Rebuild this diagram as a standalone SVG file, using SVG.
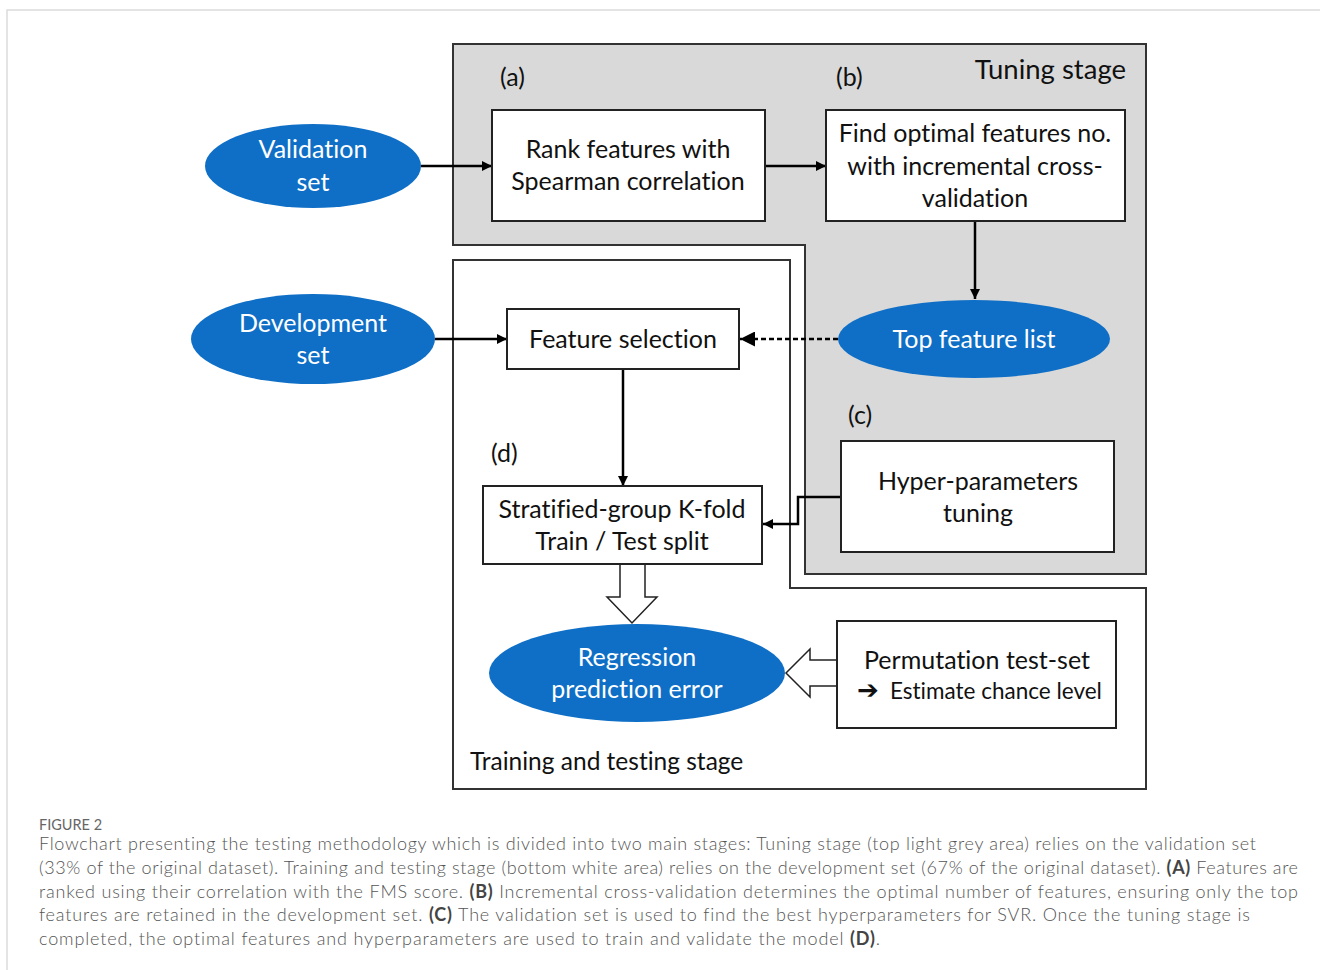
<svg xmlns="http://www.w3.org/2000/svg" width="1320" height="970" viewBox="0 0 1320 970">
<defs>
<style>
text{font-variant-ligatures:none}
.lbl{font-family:Lato,"Open Sans","Liberation Sans",sans-serif;font-size:25px;fill:#111;text-anchor:middle}
.wl{font-family:Lato,"Open Sans","Liberation Sans",sans-serif;font-size:25px;fill:#fff;text-anchor:middle}
.tag{font-family:Lato,"Open Sans","Liberation Sans",sans-serif;font-size:25px;fill:#111}
.box{fill:#fff;stroke:#222;stroke-width:2}
.ell{fill:#0f6fc6}
.con{fill:none;stroke:#000;stroke-width:2.5}
.cap{font-family:Lato,"Open Sans","Liberation Sans",sans-serif;font-weight:300;font-size:18px;fill:#555}
.capb{font-weight:700;fill:#444}
</style>
<marker id="ah" viewBox="0 0 10 10" refX="10" refY="5" markerWidth="4" markerHeight="4" orient="auto" markerUnits="strokeWidth">
<path d="M0,0 L10,5 L0,10 z" fill="#000"/>
</marker>
<marker id="ahs" viewBox="0 0 10 10" refX="10" refY="5" markerWidth="6" markerHeight="6" orient="auto" markerUnits="strokeWidth">
<path d="M0,0 L10,5 L0,10 z" fill="#000"/>
</marker>
</defs>
<rect width="1320" height="970" fill="#fff"/>
<path d="M7,970 L7,10 L1320,10" fill="none" stroke="#dcdcdc" stroke-width="1.5"/>

<g id="tuning-stage">
<polygon points="453,44 1146,44 1146,574 805,574 805,245 453,245" fill="#d9d9d9" stroke="#333" stroke-width="2"/>
<text x="1126" y="79" class="tag" style="font-size:27.5px;text-anchor:end">Tuning stage</text>
<text x="500" y="86" class="tag">(a)</text>
<text x="836" y="86" class="tag">(b)</text>
<text x="848" y="424" class="tag">(c)</text>
</g>
<g id="training-stage">
<polygon points="453,260 790,260 790,588 1146,588 1146,789 453,789" fill="#fff" stroke="#333" stroke-width="2"/>
<text x="470" y="770" class="tag" style="font-size:24.5px">Training and testing stage</text>
<text x="491" y="462" class="tag">(d)</text>
</g>

<g id="connectors">
<line x1="421" y1="166" x2="492" y2="166" class="con" marker-end="url(#ah)"/>
<line x1="765" y1="166" x2="826" y2="166" class="con" marker-end="url(#ah)"/>
<line x1="975" y1="221" x2="975" y2="299" class="con" stroke-width="2" marker-end="url(#ah)"/>
<line x1="838" y1="339" x2="740" y2="339" class="con" stroke-width="1.5" stroke-dasharray="5,3" marker-end="url(#ahs)"/>
<line x1="435" y1="339" x2="507" y2="339" class="con" marker-end="url(#ah)"/>
<line x1="623" y1="369" x2="623" y2="486" class="con" stroke-width="2" marker-end="url(#ah)"/>
<polyline points="841,497 798,497 798,524 763,524" class="con" stroke-width="3" marker-end="url(#ah)"/>
<polygon points="620,564 645,564 645,597 657,597 632,623 607,597 620,597" fill="#fff" stroke="#222" stroke-width="1.5"/>
<polygon points="837,660 810,660 810,649 786,673 810,697 810,686 837,686" fill="#fff" stroke="#222" stroke-width="1.5"/>
</g>

<g id="validation-set">
<ellipse cx="313" cy="166" rx="108" ry="42" class="ell"/>
<text x="313" y="158" class="wl">Validation</text>
<text x="313" y="191" class="wl">set</text>
</g>
<g id="development-set">
<ellipse cx="313" cy="339" rx="122" ry="45" class="ell"/>
<text x="313" y="332" class="wl">Development</text>
<text x="313" y="364" class="wl">set</text>
</g>
<g id="rank-features">
<rect x="492" y="110" width="273" height="111" class="box"/>
<text x="628" y="158" class="lbl">Rank features with</text>
<text x="628" y="190" class="lbl">Spearman correlation</text>
</g>
<g id="find-optimal">
<rect x="826" y="110" width="299" height="111" class="box"/>
<text x="975" y="142" class="lbl">Find optimal features no.</text>
<text x="975" y="175" class="lbl">with incremental cross-</text>
<text x="975" y="207" class="lbl">validation</text>
</g>
<g id="top-feature-list">
<ellipse cx="974" cy="339" rx="136" ry="39" class="ell"/>
<text x="974" y="348" class="wl">Top feature list</text>
</g>
<g id="feature-selection">
<rect x="507" y="309" width="232" height="60" class="box"/>
<text x="623" y="348" class="lbl">Feature selection</text>
</g>
<g id="hyper-parameters">
<rect x="841" y="441" width="273" height="111" class="box"/>
<text x="978" y="490" class="lbl">Hyper-parameters</text>
<text x="978" y="522" class="lbl">tuning</text>
</g>
<g id="kfold">
<rect x="483" y="486" width="279" height="78" class="box"/>
<text x="622" y="518" class="lbl">Stratified-group K-fold</text>
<text x="622" y="550" class="lbl">Train / Test split</text>
</g>
<g id="regression-error">
<ellipse cx="637" cy="673" rx="148" ry="49" class="ell"/>
<text x="637" y="666" class="wl">Regression</text>
<text x="637" y="698" class="wl">prediction error</text>
</g>
<g id="permutation">
<rect x="837" y="621" width="279" height="107" class="box"/>
<text x="977" y="669" class="lbl">Permutation test-set</text>
<text x="857" y="699" class="lbl" style="text-anchor:start;font-size:22.5px"><tspan style="font-family:'DejaVu Sans',sans-serif;font-size:26px;font-weight:bold">➔</tspan><tspan x="890">Estimate chance level</tspan></text>
</g>

<g id="caption">
<text x="39" y="830" class="cap" style="font-size:14.5px;font-weight:400;fill:#666">FIGURE 2</text>
<text x="39" y="850" class="cap" textLength="1217" lengthAdjust="spacing">Flowchart presenting the testing methodology which is divided into two main stages: Tuning stage (top light grey area) relies on the validation set</text>
<text x="39" y="874" class="cap" textLength="1259" lengthAdjust="spacing">(33% of the original dataset). Training and testing stage (bottom white area) relies on the development set (67% of the original dataset). <tspan class="capb">(A)</tspan> Features are</text>
<text x="39" y="898" class="cap" textLength="1259" lengthAdjust="spacing">ranked using their correlation with the FMS score. <tspan class="capb">(B)</tspan> Incremental cross-validation determines the optimal number of features, ensuring only the top</text>
<text x="39" y="921" class="cap" textLength="1211" lengthAdjust="spacing">features are retained in the development set. <tspan class="capb">(C)</tspan> The validation set is used to find the best hyperparameters for SVR. Once the tuning stage is</text>
<text x="39" y="945" class="cap" textLength="841" lengthAdjust="spacing">completed, the optimal features and hyperparameters are used to train and validate the model <tspan class="capb">(D)</tspan>.</text>
</g>
</svg>
